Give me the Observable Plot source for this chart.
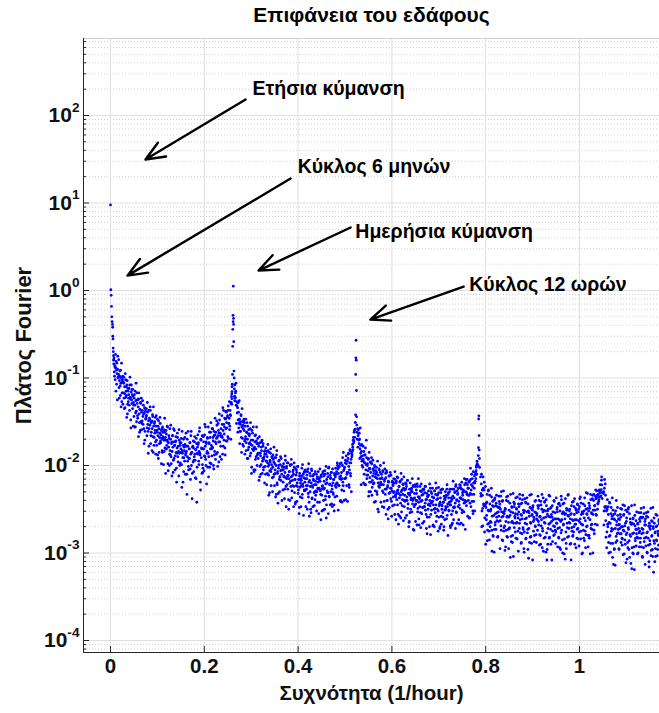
<!DOCTYPE html>
<html>
<head>
<meta charset="utf-8">
<script src="https://cdn.jsdelivr.net/npm/d3@7"></script>
<script src="https://cdn.jsdelivr.net/npm/@observablehq/plot@0.6"></script>
<style>
  html, body { margin: 0; padding: 0; background: #fff; }
  #chart svg { display: block; }
</style>
</head>
<body>
<div id="chart"></div>
<script>
// ---------- texts ----------
const titleText = "Επιφάνεια του εδάφους";
const xLabel = "Συχνότητα (1/hour)";
const yLabel = "Πλάτος Fourier";

// ---------- ticks ----------
const xTicks = [0, 0.2, 0.4, 0.6, 0.8, 1];
const yMajor = [1e-4, 1e-3, 1e-2, 1e-1, 1, 10, 100];
const yDecades = [1e-5, 1e-4, 1e-3, 1e-2, 1e-1, 1, 10, 100];
const yMinorMult = [2, 3, 4, 5, 6, 7, 8, 9];

// ---------- scale limits ----------
const xDomain = [-0.0576, 1.1706];
const yDomain = [Math.pow(10, -4.137), Math.pow(10, 2.88)];

// ---------- spectral peaks (frequency, amplitude) ----------
const peakFreq = [0, 0.0007, 0.0014, 0.0021, 0.0028, 0.0035, 0.0042, 0.0046, 0.0049, 0.0053, 0.0056, 0.006, 0.0063, 0.0066, 0.0069,
  0.2618, 0.2612, 0.2622, 0.2615, 0.2625, 0.2608, 0.2628, 0.2605, 0.2632, 0.26, 0.2636, 0.2596, 0.264, 0.2592, 0.2644, 0.2588, 0.2648, 0.2584,
  0.5236, 0.5232, 0.524, 0.5228, 0.5244, 0.5225, 0.5248, 0.522, 0.5252, 0.5215, 0.5256, 0.521, 0.526,
  0.7854, 0.785, 0.7858, 0.7846, 0.7862, 0.7842, 0.7866, 0.7838, 0.787,
  1.0472, 1.0468, 1.0476, 1.0464, 1.048, 1.046, 1.0484];
const peakAmp = [9.5, 1.02, 0.88, 0.66, 0.5, 0.44, 0.41, 0.38, 0.3, 0.28, 0.22, 0.2, 0.18, 0.16, 0.145,
  1.12, 0.52, 0.48, 0.44, 0.41, 0.36, 0.26, 0.23, 0.12, 0.11, 0.1, 0.085, 0.075, 0.07, 0.062, 0.058, 0.055, 0.05,
  0.27, 0.17, 0.16, 0.11, 0.072, 0.038, 0.036, 0.031, 0.029, 0.026, 0.024, 0.021, 0.02,
  0.037, 0.034, 0.022, 0.016, 0.015, 0.013, 0.012, 0.01, 0.0095,
  0.0074, 0.0068, 0.006, 0.0053, 0.0049, 0.0045, 0.0042];

// ---------- background spectrum: log10(amplitude) on frequency bins ----------
const freqStep = 0.001;
const segStartA = [0.007, 0.265, 0.527, 0.789, 1.051];
const segStartB = [0.0075, 0.2655, 0.5275, 0.7895, 1.0515];

const logAmpSeg0 = [
  -0.79,-0.93,-0.86,-1.02,-0.88,-0.81,-1.07,-0.95,-0.9,-0.99,
  -0.96,-1.11,-1.03,-0.92,-1.2,-1.06,-1.0,-1.27,-1.04,-0.98,
  -1.17,-1.06,-1.23,-1.1,-1.34,-1.02,-1.15,-1.2,-1.08,-1.41,
  -1.12,-1.27,-1.19,-1.31,-1.08,-1.22,-1.48,-1.16,-1.25,-1.13,
  -1.35,-1.21,-1.28,-1.44,-1.19,-1.31,-1.56,-1.26,-1.38,-1.17,
  -1.29,-1.46,-1.33,-1.24,-1.41,-1.62,-1.36,-1.28,-1.5,-1.39,
  -1.52,-1.37,-1.44,-1.31,-1.58,-1.4,-1.71,-1.35,-1.47,-1.43,
  -1.43,-1.57,-1.39,-1.61,-1.49,-1.78,-1.46,-1.54,-1.37,-1.66,
  -1.62,-1.49,-1.58,-1.44,-1.85,-1.55,-1.68,-1.5,-1.6,-1.73,
  -1.55,-1.71,-1.6,-1.47,-1.66,-1.92,-1.58,-1.75,-1.63,-1.52,
  -1.74,-1.6,-1.69,-1.83,-1.56,-1.67,-1.99,-1.71,-1.62,-1.8,
  -1.68,-1.81,-1.64,-1.77,-1.55,-1.73,-2.06,-1.79,-1.69,-1.87,
  -1.83,-1.7,-1.9,-1.75,-2.12,-1.66,-1.79,-1.94,-1.73,-1.6,
  -1.77,-1.89,-1.72,-1.85,-2.19,-1.8,-1.68,-1.96,-1.84,-1.59,
  -1.86,-1.74,-1.97,-1.81,-1.69,-2.25,-1.83,-1.91,-1.77,-2.07,
  -1.79,-1.95,-1.76,-1.88,-1.63,-1.84,-2.33,-1.9,-1.78,-2.01,
  -1.92,-1.81,-1.74,-2.04,-1.87,-1.61,-1.85,-2.38,-1.79,-1.96,
  -1.8,-1.94,-1.73,-1.87,-2.14,-1.82,-1.69,-2.42,-1.86,-1.65,
  -1.76,-1.95,-1.84,-1.57,-1.88,-2.28,-1.71,-1.8,-2.09,-1.99,
  -2.03,-1.67,-1.81,-1.89,-1.53,-1.78,-1.93,-1.73,-2.21,-1.84,
  -1.69,-1.86,-2.13,-1.74,-1.62,-1.97,-1.81,-1.51,-1.77,-1.89,
  -1.79,-1.58,-1.72,-2.04,-1.66,-1.84,-1.46,-1.93,-1.75,-1.69,
  -1.54,-1.85,-1.66,-1.6,-1.96,-1.41,-1.73,-1.63,-1.78,-1.67,
  -1.66,-1.53,-1.87,-1.6,-1.37,-1.71,-1.56,-1.8,-1.47,-1.58,
  -1.39,-1.57,-1.45,-1.67,-1.32,-1.52,-1.46,-1.59,-1.37,-1.43,
  -1.29,-1.21,-1.1
];
const logAmpSeg0b = [
  -0.77,-0.98,-0.88,-0.73,-1.15,-0.91,-0.83,-1.25,-0.75,-1.0,
  -0.79,-1.23,-0.98,-1.09,-0.91,-1.33,-0.83,-1.17,-1.02,-1.3,
  -1.05,-0.99,-1.35,-1.18,-0.95,-1.22,-1.1,-1.45,-1.03,-1.3,
  -1.15,-1.23,-1.12,-1.37,-0.99,-1.24,-1.57,-1.08,-1.29,-1.19,
  -1.13,-1.55,-1.31,-1.23,-1.56,-1.15,-1.4,-1.06,-1.5,-1.25,
  -1.43,-1.25,-1.67,-1.17,-1.51,-1.36,-1.6,-1.29,-1.23,-1.59,
  -1.49,-1.26,-1.53,-1.41,-1.75,-1.34,-1.61,-1.38,-1.46,-1.35,
  -1.66,-1.28,-1.53,-1.86,-1.37,-1.58,-1.48,-1.33,-1.75,-1.51,
  -1.5,-1.83,-1.42,-1.67,-1.33,-1.77,-1.52,-1.63,-1.45,-1.87,
  -1.43,-1.77,-1.62,-1.88,-1.55,-1.49,-1.85,-1.68,-1.45,-1.72,
  -1.65,-1.98,-1.58,-1.85,-1.62,-1.7,-1.59,-1.84,-1.46,-1.71,
  -2.09,-1.6,-1.81,-1.71,-1.56,-1.98,-1.74,-1.66,-2.0,-1.58,
  -1.88,-1.54,-1.98,-1.73,-1.84,-1.66,-2.08,-1.58,-1.92,-1.77,
  -2.05,-1.73,-1.67,-2.03,-1.86,-1.63,-1.9,-1.78,-2.12,-1.71,
  -2.0,-1.77,-1.85,-1.74,-1.99,-1.61,-1.86,-2.19,-1.7,-1.91,
  -1.83,-1.68,-2.1,-1.86,-1.78,-2.1,-1.7,-1.95,-1.61,-2.05,
  -1.81,-1.92,-1.74,-2.16,-1.66,-2.0,-1.85,-2.09,-1.78,-1.72,
  -2.07,-1.9,-1.67,-1.94,-1.82,-2.15,-1.75,-2.02,-1.79,-1.87,
  -1.74,-1.99,-1.61,-1.86,-2.19,-1.7,-1.91,-1.81,-1.66,-2.08,
  -1.81,-1.73,-2.06,-1.65,-1.9,-1.56,-2.0,-1.75,-1.86,-1.68,
  -2.02,-1.56,-1.9,-1.75,-2.02,-1.68,-1.62,-1.98,-1.81,-1.58,
  -1.8,-1.68,-2.0,-1.61,-1.88,-1.65,-1.73,-1.62,-1.87,-1.49,
  -1.68,-2.01,-1.52,-1.73,-1.63,-1.48,-1.9,-1.66,-1.58,-1.93,
  -1.43,-1.68,-1.34,-1.78,-1.53,-1.64,-1.46,-1.88,-1.38,-1.72,
  -1.51,-1.72,-1.43,-1.37,-1.69,-1.52,-1.27,-1.55,-1.42,-1.7,
  -1.28,-1.18
];
const logAmpSeg1 = [
  -1.08,-1.22,-1.15,-1.31,-1.27,-1.4,-1.34,-1.48,-1.39,-1.52,
  -1.47,-1.61,-1.53,-1.42,-1.68,-1.56,-1.5,-1.76,-1.58,-1.49,
  -1.6,-1.72,-1.55,-1.67,-1.83,-1.62,-1.51,-1.7,-1.92,-1.64,
  -1.79,-1.66,-1.74,-1.58,-1.86,-1.71,-2.02,-1.77,-1.63,-1.82,
  -1.83,-2.07,-1.79,-1.66,-1.93,-1.81,-1.72,-1.75,-1.88,-1.69,
  -1.92,-1.78,-1.86,-2.13,-1.74,-1.89,-1.99,-1.83,-1.71,-1.95,
  -1.78,-2.05,-1.93,-1.84,-1.87,-2.01,-1.8,-1.95,-2.22,-1.9,
  -1.97,-1.83,-2.11,-1.99,-2.31,-1.94,-1.86,-2.07,-2.04,-1.9,
  -2.14,-2.02,-1.93,-1.96,-2.1,-1.91,-2.05,-2.36,-2.0,-1.88,
  -2.2,-2.09,-2.43,-2.03,-1.95,-2.16,-2.13,-1.99,-2.06,-1.92,
  -2.1,-2.01,-2.05,-2.19,-1.98,-2.12,-2.38,-2.08,-1.94,-2.24,
  -2.03,-2.15,-1.97,-2.27,-2.11,-2.5,-2.07,-2.2,-2.0,-2.18,
  -2.13,-1.99,-2.29,-2.17,-2.07,-2.1,-2.24,-2.02,-2.16,-2.44,
  -2.04,-2.23,-2.08,-2.2,-2.01,-2.32,-2.16,-2.55,-2.12,-2.25,
  -2.2,-2.47,-2.17,-2.03,-2.33,-2.21,-2.1,-2.14,-2.28,-2.06,
  -2.15,-2.28,-2.07,-2.27,-2.11,-2.23,-2.04,-2.36,-2.19,-2.58,
  -2.09,-2.24,-2.5,-2.2,-2.06,-2.37,-2.25,-2.12,-2.17,-2.31,
  -2.22,-2.39,-2.18,-2.29,-2.1,-2.3,-2.13,-2.26,-2.07,-2.55,
  -2.26,-2.14,-2.18,-2.33,-2.11,-2.27,-2.52,-2.23,-2.07,-2.4,
  -2.12,-2.26,-2.06,-2.39,-2.21,-2.6,-2.16,-2.29,-2.09,-2.31,
  -2.03,-2.35,-2.22,-2.11,-2.15,-2.3,-2.08,-2.23,-2.47,-2.2,
  -2.33,-2.16,-2.52,-2.11,-2.23,-2.03,-2.25,-2.07,-2.2,-2.0,
  -2.04,-2.09,-2.23,-2.01,-2.15,-2.41,-2.12,-1.97,-2.28,-2.15,
  -1.91,-2.23,-2.06,-2.4,-2.02,-2.15,-1.94,-2.14,-1.98,-2.1,
  -1.95,-2.08,-1.87,-2.01,-2.25,-1.97,-1.83,-2.12,-1.93,-1.86,
  -1.88,-1.76,-1.82,-1.68,-1.72,-1.6
];
const logAmpSeg1b = [
  -1.23,-1.17,-1.06,-1.52,-1.32,-1.28,-1.62,-1.28,-1.57,-1.26,
  -1.75,-1.5,-1.61,-1.43,-1.85,-1.35,-1.69,-1.54,-1.78,-1.47,
  -1.51,-1.87,-1.7,-1.47,-1.74,-1.62,-1.92,-1.55,-1.82,-1.59,
  -1.75,-1.64,-1.89,-1.51,-1.76,-2.09,-1.6,-1.81,-1.71,-1.56,
  -2.05,-1.81,-1.73,-2.05,-1.65,-1.9,-1.56,-2.0,-1.75,-1.86,
  -1.75,-2.17,-1.67,-2.01,-1.86,-2.1,-1.79,-1.73,-2.09,-1.92,
  -1.75,-2.02,-1.9,-2.2,-1.83,-2.1,-1.87,-1.95,-1.84,-2.09,
  -1.76,-2.01,-2.34,-1.85,-2.06,-1.96,-1.81,-2.23,-1.99,-1.91,
  -2.3,-1.88,-2.13,-1.79,-2.23,-1.98,-2.09,-1.91,-2.33,-1.83,
  -2.22,-2.07,-2.32,-2.0,-1.94,-2.3,-2.13,-1.9,-2.17,-2.05,
  -2.4,-2.01,-2.28,-2.05,-2.13,-2.02,-2.27,-1.89,-2.14,-2.47,
  -2.01,-2.22,-2.12,-1.97,-2.39,-2.15,-2.07,-2.4,-1.99,-2.24,
  -1.93,-2.37,-2.12,-2.23,-2.05,-2.47,-1.97,-2.31,-2.16,-2.42,
  -2.11,-2.05,-2.41,-2.24,-2.01,-2.28,-2.16,-2.48,-2.09,-2.36,
  -2.15,-2.23,-2.12,-2.37,-1.99,-2.24,-2.57,-2.08,-2.29,-2.19,
  -2.05,-2.47,-2.23,-2.15,-2.5,-2.07,-2.32,-1.98,-2.42,-2.17,
  -2.3,-2.12,-2.54,-2.04,-2.38,-2.23,-2.47,-2.16,-2.1,-2.46,
  -2.3,-2.07,-2.34,-2.22,-2.52,-2.15,-2.42,-2.19,-2.27,-2.16,
  -2.42,-2.04,-2.29,-2.62,-2.13,-2.34,-2.24,-2.09,-2.51,-2.27,
  -2.18,-2.5,-2.1,-2.35,-2.01,-2.45,-2.2,-2.31,-2.13,-2.55,
  -2.02,-2.36,-2.21,-2.45,-2.14,-2.08,-2.44,-2.27,-2.04,-2.31,
  -2.16,-2.45,-2.09,-2.36,-2.13,-2.21,-2.1,-2.35,-1.97,-2.22,
  -2.51,-2.02,-2.23,-2.13,-1.98,-2.4,-2.16,-2.08,-2.42,-2.0,
  -2.19,-1.85,-2.29,-2.04,-2.15,-1.97,-2.39,-1.89,-2.23,-2.08,
  -2.41,-1.92,-1.86,-2.22,-2.05,-1.82,-2.09,-1.97,-2.3,-1.9,
  -1.84,-1.79,-1.71,-1.74,-1.62
];
const logAmpSeg2 = [
  -1.58,-1.66,-1.63,-1.75,-1.7,-1.81,-1.77,-1.9,-1.84,-1.95,
  -1.89,-2.02,-1.93,-1.84,-2.1,-1.97,-1.88,-2.22,-1.99,-1.91,
  -2.11,-1.98,-2.06,-1.92,-2.3,-2.03,-2.14,-1.96,-2.08,-2.19,
  -1.98,-2.25,-2.12,-2.04,-2.06,-2.2,-2.0,-2.13,-2.41,-2.1,
  -2.02,-2.3,-2.15,-2.5,-2.11,-2.24,-2.05,-2.22,-2.08,-2.19,
  -2.21,-2.1,-2.15,-2.29,-2.07,-2.22,-2.48,-2.18,-2.04,-2.33,
  -2.14,-2.27,-2.08,-2.4,-2.23,-2.61,-2.19,-2.32,-2.12,-2.31,
  -2.26,-2.11,-2.41,-2.29,-2.18,-2.22,-2.36,-2.15,-2.3,-2.56,
  -2.16,-2.36,-2.2,-2.32,-2.13,-2.45,-2.28,-2.67,-2.24,-2.37,
  -2.19,-2.34,-2.6,-2.3,-2.16,-2.46,-2.33,-2.22,-2.26,-2.4,
  -2.28,-2.41,-2.2,-2.4,-2.24,-2.36,-2.17,-2.49,-2.32,-2.7,
  -2.64,-2.34,-2.2,-2.5,-2.37,-2.26,-2.3,-2.44,-2.23,-2.38,
  -2.74,-2.32,-2.45,-2.24,-2.44,-2.28,-2.4,-2.21,-2.53,-2.36,
  -2.42,-2.68,-2.38,-2.24,-2.54,-2.41,-2.3,-2.34,-2.48,-2.27,
  -2.48,-2.27,-2.47,-2.31,-2.43,-2.24,-2.56,-2.39,-2.78,-2.35,
  -2.5,-2.29,-2.44,-2.7,-2.4,-2.26,-2.56,-2.43,-2.32,-2.36,
  -2.41,-2.68,-2.37,-2.5,-2.29,-2.49,-2.33,-2.45,-2.26,-2.58,
  -2.34,-2.38,-2.52,-2.31,-2.46,-2.72,-2.42,-2.28,-2.58,-2.45,
  -2.46,-2.27,-2.59,-2.42,-2.7,-2.38,-2.51,-2.3,-2.5,-2.34,
  -2.27,-2.57,-2.44,-2.33,-2.37,-2.51,-2.3,-2.45,-2.71,-2.41,
  -2.56,-2.39,-2.66,-2.35,-2.48,-2.27,-2.47,-2.31,-2.43,-2.24,
  -2.53,-2.4,-2.29,-2.33,-2.47,-2.26,-2.41,-2.67,-2.37,-2.23,
  -2.26,-2.38,-2.19,-2.51,-2.34,-2.68,-2.3,-2.43,-2.22,-2.42,
  -2.3,-2.16,-2.46,-2.33,-2.22,-2.26,-2.4,-2.19,-2.34,-2.6,
  -2.32,-2.16,-2.28,-2.1,-2.41,-2.24,-2.55,-2.2,-2.33,-2.12,
  -2.2,-2.08,-2.15,-2.02,-2.1,-1.98
];
const logAmpSeg2b = [
  -1.79,-1.59,-1.71,-1.63,-1.92,-1.57,-1.86,-2.22,-1.76,-2.0,
  -1.93,-1.78,-2.2,-1.96,-1.88,-2.22,-1.8,-2.05,-1.71,-2.15,
  -2.0,-2.11,-1.93,-2.35,-1.85,-2.19,-2.04,-2.3,-1.97,-1.91,
  -2.34,-2.17,-1.94,-2.21,-2.09,-2.42,-2.02,-2.29,-2.06,-2.14,
  -2.08,-2.33,-1.95,-2.2,-2.53,-2.04,-2.25,-2.15,-2.0,-2.42,
  -2.22,-2.14,-2.47,-2.06,-2.31,-1.97,-2.41,-2.16,-2.27,-2.09,
  -2.56,-2.06,-2.4,-2.25,-2.5,-2.18,-2.12,-2.48,-2.31,-2.08,
  -2.38,-2.26,-2.58,-2.19,-2.46,-2.23,-2.31,-2.2,-2.45,-2.07,
  -2.34,-2.62,-2.18,-2.39,-2.29,-2.14,-2.56,-2.32,-2.24,-2.58,
  -2.18,-2.43,-2.09,-2.53,-2.28,-2.39,-2.21,-2.63,-2.13,-2.47,
  -2.34,-2.6,-2.27,-2.21,-2.57,-2.4,-2.17,-2.44,-2.32,-2.65,
  -2.27,-2.54,-2.31,-2.39,-2.28,-2.53,-2.15,-2.4,-2.73,-2.24,
  -2.47,-2.37,-2.22,-2.64,-2.4,-2.32,-2.68,-2.24,-2.49,-2.15,
  -2.61,-2.36,-2.47,-2.29,-2.71,-2.21,-2.55,-2.4,-2.66,-2.33,
  -2.28,-2.64,-2.47,-2.24,-2.51,-2.39,-2.72,-2.32,-2.59,-2.36,
  -2.45,-2.34,-2.59,-2.21,-2.46,-2.79,-2.3,-2.51,-2.41,-2.26,
  -2.69,-2.45,-2.37,-2.7,-2.29,-2.54,-2.2,-2.64,-2.39,-2.5,
  -2.33,-2.75,-2.25,-2.59,-2.44,-2.7,-2.37,-2.31,-2.67,-2.5,
  -2.27,-2.54,-2.42,-2.74,-2.35,-2.62,-2.39,-2.47,-2.36,-2.61,
  -2.22,-2.47,-2.8,-2.31,-2.52,-2.42,-2.27,-2.69,-2.45,-2.37,
  -2.68,-2.27,-2.52,-2.18,-2.62,-2.37,-2.48,-2.3,-2.72,-2.22,
  -2.54,-2.39,-2.66,-2.32,-2.26,-2.62,-2.45,-2.22,-2.49,-2.37,
  -2.66,-2.27,-2.54,-2.31,-2.39,-2.28,-2.53,-2.15,-2.4,-2.73,
  -2.2,-2.41,-2.31,-2.16,-2.58,-2.34,-2.26,-2.6,-2.18,-2.43,
  -2.03,-2.47,-2.22,-2.33,-2.15,-2.52,-2.07,-2.41,-2.26,-2.52,
  -2.18,-2.1,-2.06,-2.0,-1.95
];
const logAmpSeg3 = [
  -2.13,-2.35,-2.1,-2.52,-2.34,-2.69,-2.26,-2.46,-2.19,-2.6,
  -2.45,-2.9,-2.43,-2.57,-2.33,-2.74,-2.51,-2.28,-2.66,-2.85,
  -2.44,-2.64,-2.5,-2.26,-2.74,-2.58,-2.41,-2.81,-2.47,-2.99,
  -2.39,-2.68,-2.55,-2.73,-2.34,-2.63,-2.47,-2.81,-2.53,-2.58,
  -2.41,-2.44,-2.63,-2.35,-2.74,-2.53,-2.85,-2.4,-2.58,-2.29,
  -2.71,-2.52,-2.97,-2.5,-2.64,-2.4,-2.81,-2.58,-2.35,-2.73,
  -2.95,-2.51,-2.71,-2.57,-2.33,-2.81,-2.65,-2.48,-2.88,-2.54,
  -3.04,-2.42,-2.71,-2.58,-2.76,-2.37,-2.66,-2.5,-2.84,-2.56,
  -2.6,-2.44,-2.47,-2.66,-2.38,-2.77,-2.56,-2.88,-2.43,-2.61,
  -2.34,-2.73,-2.54,-2.99,-2.52,-2.66,-2.42,-2.83,-2.6,-2.37,
  -2.77,-2.96,-2.52,-2.72,-2.58,-2.34,-2.82,-2.66,-2.49,-2.89,
  -2.56,-3.08,-2.46,-2.75,-2.62,-2.8,-2.41,-2.7,-2.54,-2.88,
  -2.57,-2.62,-2.46,-2.49,-2.68,-2.4,-2.79,-2.58,-2.9,-2.45,
  -2.62,-2.33,-2.72,-2.53,-2.98,-2.51,-2.65,-2.41,-2.82,-2.59,
  -2.39,-2.77,-2.96,-2.52,-2.72,-2.58,-2.34,-2.82,-2.66,-2.49,
  -2.9,-2.56,-3.08,-2.46,-2.75,-2.62,-2.8,-2.41,-2.7,-2.54,
  -2.89,-2.61,-2.66,-2.5,-2.53,-2.72,-2.44,-2.83,-2.62,-2.94,
  -2.46,-2.64,-2.35,-2.74,-2.55,-3.0,-2.53,-2.67,-2.43,-2.84,
  -2.61,-2.38,-2.76,-2.95,-2.51,-2.71,-2.57,-2.33,-2.81,-2.65,
  -2.5,-2.9,-2.56,-3.08,-2.46,-2.75,-2.62,-2.8,-2.41,-2.7,
  -2.56,-2.9,-2.62,-2.67,-2.51,-2.54,-2.73,-2.45,-2.84,-2.63,
  -2.92,-2.47,-2.65,-2.36,-2.75,-2.56,-3.01,-2.54,-2.68,-2.44,
  -2.83,-2.6,-2.37,-2.75,-2.94,-2.5,-2.7,-2.56,-2.32,-2.8,
  -2.6,-2.43,-2.83,-2.49,-3.01,-2.39,-2.68,-2.55,-2.73,-2.34,
  -2.56,-2.4,-2.74,-2.46,-2.51,-2.35,-2.38,-2.57,-2.29,-2.68,
  -2.44,-2.33,-2.41,-2.28,-2.36,-2.22
];
const logAmpSeg3b = [
  -2.32,-2.21,-2.7,-2.28,-2.49,-2.13,-2.44,-2.28,-2.76,-2.46,
  -2.24,-2.48,-2.62,-2.42,-2.86,-2.67,-2.29,-2.52,-2.75,-2.34,
  -2.7,-2.52,-2.65,-2.36,-2.98,-2.46,-2.8,-2.4,-2.57,-2.73,
  -2.37,-2.65,-2.46,-2.43,-2.59,-2.54,-2.82,-2.48,-2.64,-2.35,
  -2.48,-2.95,-2.5,-2.69,-2.3,-2.59,-2.41,-2.86,-2.54,-2.75,
  -2.55,-2.69,-2.49,-2.93,-2.74,-2.36,-2.59,-2.82,-2.41,-2.65,
  -2.59,-2.72,-2.43,-3.05,-2.53,-2.87,-2.47,-2.64,-2.8,-2.32,
  -2.66,-2.47,-2.44,-2.6,-2.55,-2.83,-2.49,-2.65,-2.36,-2.75,
  -2.98,-2.53,-2.72,-2.33,-2.62,-2.44,-2.89,-2.57,-2.78,-2.39,
  -2.71,-2.51,-2.95,-2.76,-2.38,-2.61,-2.84,-2.43,-2.67,-2.53,
  -2.73,-2.44,-3.06,-2.54,-2.88,-2.48,-2.65,-2.81,-2.33,-2.57,
  -2.51,-2.48,-2.64,-2.59,-2.87,-2.53,-2.69,-2.4,-2.79,-2.61,
  -2.55,-2.74,-2.35,-2.64,-2.46,-2.91,-2.59,-2.8,-2.41,-2.69,
  -2.5,-2.94,-2.75,-2.37,-2.6,-2.83,-2.42,-2.66,-2.52,-2.99,
  -2.46,-3.08,-2.56,-2.9,-2.5,-2.67,-2.83,-2.35,-2.59,-2.73,
  -2.48,-2.64,-2.59,-2.87,-2.53,-2.69,-2.4,-2.79,-2.61,-2.74,
  -2.76,-2.37,-2.66,-2.48,-2.93,-2.61,-2.82,-2.43,-2.71,-2.52,
  -2.96,-2.77,-2.39,-2.62,-2.85,-2.44,-2.68,-2.54,-3.01,-2.56,
  -3.07,-2.55,-2.89,-2.49,-2.66,-2.82,-2.34,-2.58,-2.72,-2.52,
  -2.66,-2.61,-2.89,-2.55,-2.71,-2.42,-2.81,-2.63,-2.76,-2.47,
  -2.38,-2.67,-2.49,-2.94,-2.62,-2.83,-2.44,-2.72,-2.53,-2.5,
  -2.76,-2.38,-2.61,-2.84,-2.43,-2.67,-2.53,-3.0,-2.55,-2.74,
  -2.52,-2.86,-2.46,-2.63,-2.79,-2.31,-2.55,-2.69,-2.49,-2.93,
  -2.52,-2.8,-2.46,-2.62,-2.33,-2.72,-2.54,-2.67,-2.38,-3.0,
  -2.51,-2.33,-2.78,-2.46,-2.67,-2.28,-2.56,-2.37,-2.34,-2.5,
  -2.43,-2.36,-2.39,-2.29,-2.31
];
const logAmpSeg4 = [
  -2.32,-2.68,-2.26,-2.47,-2.21,-2.63,-2.47,-2.94,-2.5,-2.67,
  -2.47,-2.88,-2.65,-2.42,-2.8,-2.99,-2.55,-2.75,-2.61,-2.37,
  -2.89,-2.73,-2.56,-2.96,-2.62,-3.14,-2.52,-2.81,-2.68,-2.86,
  -2.48,-2.77,-2.61,-2.95,-2.67,-2.72,-2.56,-2.59,-2.78,-2.5,
  -2.91,-2.7,-3.02,-2.57,-2.75,-2.46,-2.85,-2.66,-3.11,-2.64,
  -2.77,-2.53,-2.94,-2.71,-2.48,-2.86,-3.05,-2.61,-2.81,-2.67,
  -2.46,-2.94,-2.78,-2.61,-3.01,-2.67,-3.19,-2.57,-2.86,-2.73,
  -2.92,-2.53,-2.82,-2.66,-3.0,-2.72,-2.77,-2.61,-2.64,-2.83,
  -2.54,-2.93,-2.72,-3.04,-2.59,-2.77,-2.48,-2.87,-2.68,-3.13,
  -2.68,-2.82,-2.58,-2.99,-2.76,-2.53,-2.91,-3.1,-2.66,-2.86,
  -2.73,-2.49,-2.97,-2.81,-2.64,-3.04,-2.7,-3.22,-2.6,-2.89,
  -2.77,-2.95,-2.56,-2.85,-2.69,-3.03,-2.75,-2.8,-2.64,-2.67
];
const logAmpSeg4b = [
  -2.3,-2.52,-2.16,-2.48,-2.34,-2.82,-2.52,-2.76,-2.39,-2.7,
  -2.56,-3.0,-2.81,-2.43,-2.66,-2.89,-2.48,-2.72,-2.58,-3.05,
  -2.51,-3.13,-2.61,-2.95,-2.55,-2.72,-2.88,-2.4,-2.64,-2.78,
  -2.57,-2.73,-2.68,-2.96,-2.62,-2.78,-2.49,-2.88,-2.7,-2.83,
  -2.84,-2.45,-2.74,-2.56,-3.01,-2.69,-2.9,-2.51,-2.79,-2.6,
  -3.07,-2.88,-2.5,-2.73,-2.96,-2.55,-2.79,-2.65,-3.12,-2.67,
  -3.18,-2.66,-3.0,-2.6,-2.77,-2.93,-2.45,-2.69,-2.83,-2.63,
  -2.78,-2.73,-3.01,-2.67,-2.83,-2.54,-2.93,-2.75,-2.88,-2.59,
  -2.49,-2.78,-2.6,-3.05,-2.73,-2.94,-2.55,-2.83,-2.64,-2.61,
  -2.92,-2.54,-2.77,-3.0,-2.59,-2.83,-2.69,-3.16,-2.71,-2.9,
  -2.69,-3.03,-2.63,-2.8,-2.96,-2.48,-2.72,-2.86,-2.66,-3.1,
  -2.76,-3.04,-2.7,-2.86,-2.57,-2.96,-2.78,-2.91,-2.62
];

// ---------- annotations ----------
const annText = ["Ετήσια κύμανση", "Κύκλος 6 μηνών", "Ημερήσια κύμανση", "Κύκλος 12 ωρών"];
const annTextX = [0.303, 0.399, 0.522, 0.765];
const annTextY = [203.6, 26.1, 4.72, 1.17];
const arrowX1 = [0.288, 0.384, 0.512, 0.753];
const arrowY1 = [152, 19.05, 5.25, 1.11];
const arrowX2 = [0.0746, 0.0362, 0.3156, 0.554];
const arrowY2 = [31.4, 1.48, 1.69, 0.466];

// ---------- build tables ----------
const points = [];
peakFreq.forEach((f, i) => points.push({f, a: peakAmp[i]}));
const segsA = [logAmpSeg0, logAmpSeg1, logAmpSeg2, logAmpSeg3, logAmpSeg4];
const segsB = [logAmpSeg0b, logAmpSeg1b, logAmpSeg2b, logAmpSeg3b, logAmpSeg4b];
segsA.forEach((arr, s) => arr.forEach((v, i) => points.push({f: segStartA[s] + i * freqStep, a: Math.pow(10, v)})));
segsB.forEach((arr, s) => arr.forEach((v, i) => points.push({f: segStartB[s] + i * freqStep, a: Math.pow(10, v)})));

const yMinor = [];
yDecades.forEach(d => yMinorMult.forEach(m => { const v = d * m; if (v >= yDomain[0] && v <= yDomain[1]) yMinor.push(v); }));

const ann = annText.map((t, i) => ({t, tx: annTextX[i], ty: annTextY[i], x1: arrowX1[i], y1: arrowY1[i], x2: arrowX2[i], y2: arrowY2[i]}));

const W = 659, H = 713, mL = 83, mR = 0, mT = 38, mB = 61;
const fw = W - mL - mR, fh = H - mT - mB;
const font = "'Liberation Sans', Arial, Helvetica, sans-serif";

const svg = Plot.plot({
  width: W, height: H,
  marginLeft: mL, marginRight: mR, marginTop: mT, marginBottom: mB,
  style: {fontFamily: font, fontSize: "18px", fontWeight: "bold", color: "#111", background: "#fff", overflow: "visible"},
  x: {domain: xDomain},
  y: {type: "log", domain: yDomain},
  marks: [
    Plot.ruleY(yMinor, {stroke: "#c4c4c4", strokeWidth: 0.8, strokeDasharray: "1,2"}),
    Plot.ruleY(yMajor, {stroke: "#e0e0e0", strokeWidth: 1}),
    Plot.ruleX(xTicks, {stroke: "#e0e0e0", strokeWidth: 1}),
    Plot.ruleY([yDomain[1]], {stroke: "#cfcfcf", strokeWidth: 1}),
    Plot.dot(points, {x: "f", y: "a", r: 1.4, fill: "#0000ff", stroke: null}),
    Plot.ruleX([xDomain[0]], {stroke: "#262626", strokeWidth: 1}),
    Plot.ruleY([yDomain[0]], {stroke: "#262626", strokeWidth: 1}),
    Plot.tickY(yMajor, {stroke: "#262626", insetRight: fw - 6}),
    Plot.tickY(yMinor, {stroke: "#262626", insetRight: fw - 3}),
    Plot.tickX(xTicks, {stroke: "#262626", insetTop: fh - 6}),
    Plot.axisX({ticks: xTicks, tickSize: 0, tickPadding: 6, fontSize: 20.5, fontWeight: "bold", fill: "#111",
      tickFormat: d => String(d)}),
    Plot.axisY({ticks: yMajor, tickSize: 0, tickPadding: 4, fontSize: 21, fontWeight: "bold", fill: "#111",
      tickFormat: d => "10^" + Math.round(Math.log10(d))}),
    Plot.arrow(ann, {x1: "x1", y1: "y1", x2: "x2", y2: "y2", stroke: "#000", strokeWidth: 2.4, headLength: 13, headAngle: 45}),
    Plot.text(ann, {x: "tx", y: "ty", text: "t", textAnchor: "start", lineAnchor: "middle", fontSize: 19.5, fontWeight: "bold", fill: "#000"}),
    Plot.text([titleText], {frameAnchor: "top", textAnchor: "middle", lineAnchor: "middle", dy: -23, fontSize: 21, fontWeight: "bold", fill: "#000"}),
    Plot.text([xLabel], {frameAnchor: "bottom", textAnchor: "middle", lineAnchor: "middle", dy: 41, fontSize: 20.5, fontWeight: "bold", fill: "#111"}),
    Plot.text([yLabel], {frameAnchor: "left", textAnchor: "middle", lineAnchor: "middle", dx: -60, rotate: -90, fontSize: 22, fontWeight: "bold", fill: "#111"})
  ]
});

// superscript exponents on the log axis labels
const NS = "http://www.w3.org/2000/svg";
svg.querySelectorAll('[aria-label="y-axis tick label"] text').forEach(t => {
  const s = t.textContent;
  if (!s.includes("^")) return;
  const [b, e] = s.split("^");
  t.textContent = "";
  const t1 = document.createElementNS(NS, "tspan"); t1.textContent = b; t.appendChild(t1);
  const t2 = document.createElementNS(NS, "tspan"); t2.textContent = e;
  t2.setAttribute("dy", "-0.75em"); t2.setAttribute("font-size", "0.65em"); t.appendChild(t2);
});

document.getElementById("chart").appendChild(svg);
</script>
</body>
</html>
